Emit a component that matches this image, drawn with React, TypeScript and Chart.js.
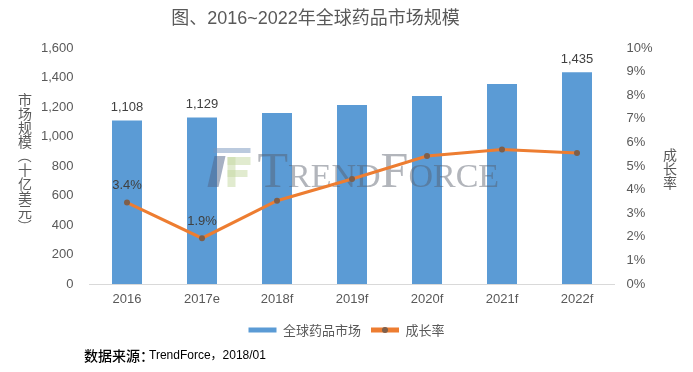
import React, { useEffect, useRef } from "react";
import { Chart, registerables } from "chart.js";

Chart.register(...registerables);

const categories = ["2016", "2017e", "2018f", "2019f", "2020f", "2021f", "2022f"];
const marketValues = [1108, 1129, 1160, 1213, 1275, 1356, 1435];
const growthRates = [3.45, 1.94, 3.53, 4.45, 5.42, 5.7, 5.55];
const growthRateLabels = ["3.4%", "1.9%", "", "", "", "", ""];
const marketLabelIndices = [0, 1, 6];
const seriesNames = ["全球药品市场", "成长率"];
const leftAxisRange = [0, 1600, 200];
const rightAxisRange = [0, 10, 1];
const titleText = "图、2016~2022年全球药品市场规模";
const leftAxisTitle = "市场规模（十亿美元）";
const rightAxisTitle = "成长率";
const sourcePrefix = "数据来源：";
const sourceText = "TrendForce，2018/01";

const FONT = '"Liberation Sans", "Noto Sans CJK SC", sans-serif';
const CJK = '"Noto Sans CJK SC", "Liberation Sans", sans-serif';
const GRAY = "#595959";
const BAR_COLOR = "#5B9BD5";
const LINE_COLOR = "#ED7D31";
const POINT_COLOR = "#7F5F4A";

function drawVerticalText(ctx: CanvasRenderingContext2D, text: string, cx: number, cy: number, step: number) {
  const chars = Array.from(text);
  const total = chars.length * step;
  let y = cy - total / 2 + step / 2;
  for (const ch of chars) {
    if (ch === "（" || ch === "）") {
      ctx.save();
      ctx.translate(cx, y);
      ctx.rotate(Math.PI / 2);
      ctx.fillText(ch, 0, 0);
      ctx.restore();
    } else {
      ctx.fillText(ch, cx, y);
    }
    y += step;
  }
}

const decorPlugin = {
  id: "decor",
  afterDatasetDraw(chart: any, args: any) {
    if (args.index !== 0) return;
    const ctx: CanvasRenderingContext2D = chart.ctx;
    const { left, top } = chart.chartArea;
    const ox = left + 118;
    const oy = top + 100;
    ctx.save();
    // logo
    ctx.globalAlpha = 0.5;
    ctx.fillStyle = "rgb(120,150,190)";
    ctx.fillRect(ox + 6, oy, 37, 5);
    ctx.fillStyle = "rgb(80,100,135)";
    ctx.beginPath();
    ctx.moveTo(ox + 7, oy + 8);
    ctx.lineTo(ox + 18, oy + 8);
    ctx.lineTo(ox + 11, oy + 39);
    ctx.lineTo(ox + 0, oy + 39);
    ctx.closePath();
    ctx.fill();
    ctx.fillStyle = "rgb(195,215,160)";
    ctx.fillRect(ox + 20, oy + 9, 8, 30);
    ctx.fillRect(ox + 20, oy + 9, 23, 8);
    ctx.fillRect(ox + 20, oy + 22, 20, 7);
    // text
    ctx.globalAlpha = 0.45;
    ctx.fillStyle = "rgb(85,90,105)";
    ctx.textBaseline = "alphabetic";
    ctx.textAlign = "left";
    const base = oy + 39;
    let x = ox + 50;
    const big = '50px "Liberation Serif", serif';
    const small = '34px "Liberation Serif", serif';
    const parts: [string, string][] = [["T", big], ["REND", small], ["F", big], ["ORCE", small]];
    for (const [t, f] of parts) {
      ctx.font = f;
      ctx.fillText(t, x, base);
      x += ctx.measureText(t).width;
    }
    ctx.restore();
  },
  afterDraw(chart: any) {
    const ctx: CanvasRenderingContext2D = chart.ctx;
    const area = chart.chartArea;
    ctx.save();
    // title
    ctx.fillStyle = GRAY;
    ctx.font = `18px ${FONT}`;
    ctx.textAlign = "center";
    ctx.textBaseline = "middle";
    ctx.fillText(titleText, area.left + 226, 19);

    // axis titles
    ctx.font = `14px ${CJK}`;
    ctx.fillStyle = GRAY;
    drawVerticalText(ctx, leftAxisTitle, 25, (area.top + area.bottom) / 2 - 3, 14);
    drawVerticalText(ctx, rightAxisTitle, 670, (area.top + area.bottom) / 2 + 3, 14);

    // bar labels
    const barMeta = chart.getDatasetMeta(0);
    ctx.font = `13px ${FONT}`;
    ctx.fillStyle = "#404040";
    ctx.textAlign = "center";
    ctx.textBaseline = "middle";
    for (const i of marketLabelIndices) {
      const el = barMeta.data[i];
      ctx.fillText(marketValues[i].toLocaleString("en-US"), el.x, el.y - 13);
    }
    // rate labels
    const lineMeta = chart.getDatasetMeta(1);
    growthRateLabels.forEach((lab, i) => {
      if (!lab) return;
      const el = lineMeta.data[i];
      ctx.fillText(lab, el.x, el.y - 17);
    });

    // legend dot
    const hb = chart.legend && chart.legend.legendHitBoxes ? chart.legend.legendHitBoxes[1] : null;
    if (hb) {
      ctx.fillStyle = POINT_COLOR;
      ctx.beginPath();
      ctx.arc(hb.left + 14, hb.top + hb.height / 2, 3, 0, Math.PI * 2);
      ctx.fill();
    }

    // source
    ctx.textAlign = "left";
    ctx.textBaseline = "middle";
    ctx.fillStyle = "#000";
    ctx.font = `500 14px ${CJK}`;
    ctx.fillText(sourcePrefix, 84, 356);
    ctx.font = `12px ${FONT}`;
    ctx.fillText(sourceText, 149, 356);
    ctx.restore();
  },
};

export default function App() {
  const ref = useRef<HTMLCanvasElement>(null);
  useEffect(() => {
    if (!ref.current) return;
    const chart = new Chart(ref.current, {
      type: "bar",
      data: {
        labels: categories,
        datasets: [
          {
            type: "bar",
            label: seriesNames[0],
            data: marketValues,
            backgroundColor: BAR_COLOR,
            borderWidth: 0,
            barPercentage: 0.8,
            categoryPercentage: 0.5,
            yAxisID: "y",
            order: 2,
          } as any,
          {
            type: "line",
            label: seriesNames[1],
            data: growthRates,
            borderColor: LINE_COLOR,
            backgroundColor: LINE_COLOR,
            borderWidth: 3,
            pointRadius: 3,
            pointBackgroundColor: POINT_COLOR,
            pointBorderColor: POINT_COLOR,
            pointBorderWidth: 0,
            tension: 0,
            yAxisID: "y1",
            order: 1,
          } as any,
        ],
      },
      options: {
        responsive: false,
        animation: false,
        layout: { padding: { top: 48, bottom: 25.5, left: 0, right: 0 } },
        plugins: {
          title: { display: false },
          tooltip: { enabled: false },
          legend: {
            position: "bottom",
            labels: {
              color: GRAY,
              font: { size: 13, family: CJK },
              boxWidth: 28,
              boxHeight: 5,
              padding: 10,
              sort: (a: any, b: any) => a.datasetIndex - b.datasetIndex,
              generateLabels: (c: any) => {
                const items = (Chart as any).defaults.plugins.legend.labels.generateLabels(c);
                items.forEach((it: any) => {
                  it.lineWidth = 0;
                });
                return items;
              },
            },
          },
        },
        scales: {
          x: {
            grid: { display: false, drawTicks: false },
            border: { display: true, color: "#d9d9d9", width: 1 },
            ticks: { color: GRAY, font: { size: 13, family: FONT }, padding: 8 },
            afterFit: (s: any) => {
              s.height = 29.5;
            },
          },
          y: {
            position: "left",
            min: leftAxisRange[0],
            max: leftAxisRange[1],
            grid: { display: false, drawTicks: false },
            border: { display: false },
            ticks: {
              stepSize: leftAxisRange[2],
              padding: 16,
              color: GRAY,
              font: { size: 13, family: FONT },
              callback: (v: any) => Number(v).toLocaleString("en-US"),
            },
            afterFit: (s: any) => {
              s.width = 89.5;
            },
          },
          y1: {
            position: "right",
            min: rightAxisRange[0],
            max: rightAxisRange[1],
            grid: { display: false, drawTicks: false },
            border: { display: false },
            ticks: {
              stepSize: rightAxisRange[2],
              padding: 12,
              color: GRAY,
              font: { size: 13, family: FONT },
              callback: (v: any) => `${v}%`,
            },
            afterFit: (s: any) => {
              s.width = 78.5;
            },
          },
        },
      } as any,
      plugins: [decorPlugin],
    });
    return () => chart.destroy();
  }, []);
  return (
    <div style={{ position: "fixed", left: 0, top: 0, width: 693, height: 372, background: "#fff" }}>
      <canvas ref={ref} width={693} height={372} style={{ display: "block" }} />
    </div>
  );
}
